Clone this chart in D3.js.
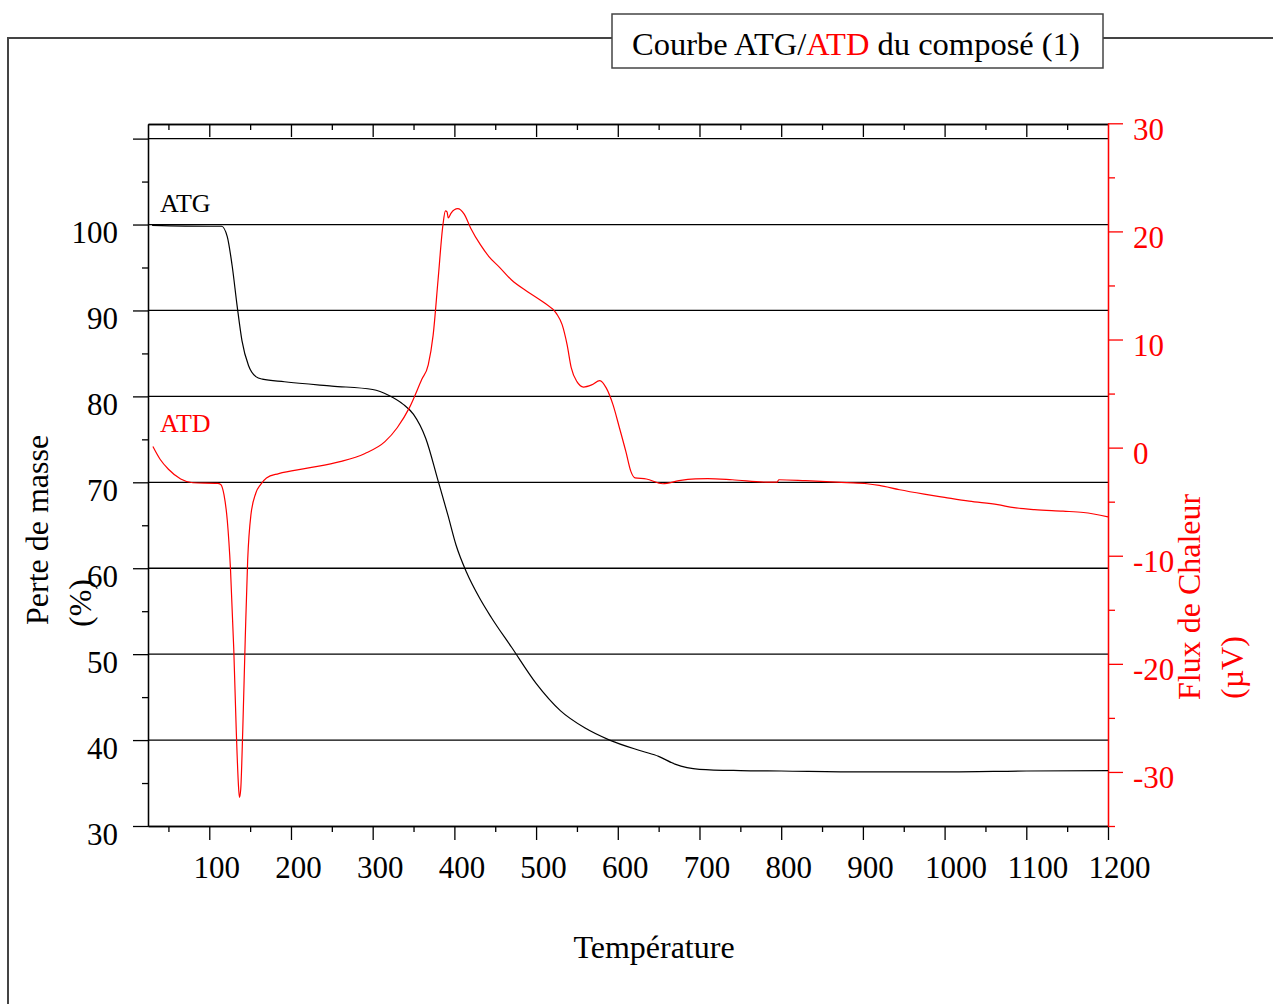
<!DOCTYPE html>
<html>
<head>
<meta charset="utf-8">
<script src="https://cdn.jsdelivr.net/npm/d3@7"></script>
<style>
  html, body { margin: 0; padding: 0; background: #fff; }
  svg { display: block; }
  svg text { font-family: "Liberation Serif", "Times New Roman", serif; }
</style>
</head>
<body>
<svg id="chart" width="1273" height="1004"></svg>
<script>
// ---- Data ----
const atgTemp = [30, 100, 115, 122, 128, 134, 140, 148, 157, 165, 192, 250, 300, 320, 337, 350, 365, 380, 392, 402, 415, 431, 445, 470, 500, 530, 560, 590, 630, 650, 670, 700, 750, 800, 900, 1000, 1100, 1200];
const atgMass = [99.9, 99.8, 99.8, 98.6, 95.2, 90.6, 86.5, 83.6, 82.3, 82.0, 81.7, 81.2, 80.8, 80.1, 79.1, 77.9, 75.1, 70.2, 66.2, 62.7, 59.5, 56.5, 54.3, 50.8, 46.6, 43.4, 41.4, 40.0, 38.7, 38.1, 37.2, 36.6, 36.45, 36.4, 36.3, 36.3, 36.4, 36.45];

const atdTemp = [31, 40, 50, 65, 80, 110, 114, 118, 122, 126, 130, 133, 136, 137, 138.5, 141, 144, 147, 151, 157, 163, 170, 185, 220, 260, 290, 315, 330, 345, 360, 368, 374, 380, 386, 389, 391, 392.5, 396, 404, 412, 420, 432, 442, 455, 470, 490, 510, 525, 532, 538, 543, 550, 558, 568, 578, 586, 594, 602, 610, 616, 621, 635, 655, 675, 695, 710, 740, 785, 795, 797, 830, 880, 905, 920, 945, 975, 1000, 1030, 1065, 1085, 1110, 1145, 1170, 1200];
const atdFlux = [0.1, -1.1, -2.0, -2.9, -3.25, -3.3, -3.4, -4.35, -6.7, -11.3, -18.7, -26.1, -31.6, -32.35, -31.6, -26.1, -17.75, -10.4, -6.2, -4.2, -3.4, -2.8, -2.4, -1.9, -1.3, -0.56, 0.55, 1.84, 3.7, 6.3, 7.66, 10.4, 15.5, 20.6, 21.9, 21.8, 21.25, 21.7, 22.1, 21.6, 20.3, 18.75, 17.7, 16.7, 15.5, 14.4, 13.4, 12.4, 11.35, 9.5, 7.4, 6.1, 5.6, 5.8, 6.2, 5.5, 4.0, 1.84, -0.4, -2.2, -2.8, -2.9, -3.34, -3.06, -2.9, -2.87, -2.97, -3.2, -3.2, -2.97, -3.06, -3.24, -3.34, -3.5, -3.9, -4.3, -4.6, -4.95, -5.28, -5.55, -5.74, -5.88, -6.0, -6.4];

const xMajorTicks = [100, 200, 300, 400, 500, 600, 700, 800, 900, 1000, 1100, 1200];
const xMinorTicks = [50, 150, 250, 350, 450, 550, 650, 750, 850, 950, 1050, 1150];
const leftMajorTicks = [30, 40, 50, 60, 70, 80, 90, 100, 110];
const leftLabeledTicks = [30, 40, 50, 60, 70, 80, 90, 100];
const leftMinorTicks = [35, 45, 55, 65, 75, 85, 95, 105];
const rightMajorTicks = [-30, -20, -10, 0, 10, 20, 30];
const rightMinorTicks = [-35, -25, -15, -5, 5, 15, 25];

const titleParts = [
  { text: "Courbe ATG/", color: "#000" },
  { text: "ATD", color: "#ff0000" },
  { text: " du composé (1)", color: "#000" }
];
const xAxisTitle = "Température";
const leftAxisTitle = ["Perte de masse", "(%)"];
const rightAxisTitle = ["Flux de Chaleur", "(µV)"];

// ---- Drawing ----
const svg = d3.select("#chart");
const RED = "#ff0000";
const FONT = 31;
const SERIF = '"Liberation Serif", "Times New Roman", serif';

const x = d3.scaleLinear().domain([25, 1200]).range([148, 1108]);
const yL = d3.scaleLinear().domain([30, 111.7]).range([826, 124]);
const yR = d3.scaleLinear().domain([-35, 30]).range([826, 123.3]);

// outer frame
svg.append("path")
  .attr("d", "M8,1010 L8,38 L612,38 M1103,38 L1280,38")
  .attr("fill", "none").attr("stroke", "#444").attr("stroke-width", 2);

// title box
svg.append("rect").attr("x", 612).attr("y", 14).attr("width", 491).attr("height", 54)
  .attr("fill", "#fff").attr("stroke", "#444").attr("stroke-width", 1.5);
const tt = svg.append("text").attr("x", 632).attr("y", 55).attr("font-size", 32.5);
titleParts.forEach(p => tt.append("tspan").attr("fill", p.color).text(p.text));

// gridlines
svg.append("g").selectAll("line").data(leftMajorTicks.filter(v => v > 30)).join("line")
  .attr("x1", 148).attr("x2", 1108)
  .attr("y1", d => yL(d)).attr("y2", d => yL(d))
  .attr("stroke", "#000").attr("stroke-width", 1.3);

// top axis (frame with inward ticks)
const topMajor = svg.append("g").attr("transform", "translate(0,124)")
  .call(d3.axisBottom(x).tickValues(xMajorTicks.filter(v => v < 1200)).tickSize(13).tickSizeOuter(0).tickFormat(""));
const topMinor = svg.append("g").attr("transform", "translate(0,124)")
  .call(d3.axisBottom(x).tickValues(xMinorTicks).tickSize(6).tickSizeOuter(0).tickFormat(""));
[topMajor, topMinor].forEach(g => { g.selectAll("path,line").attr("stroke", "#000").attr("stroke-width", 1.3); });

// bottom axis
const botMajor = svg.append("g").attr("transform", "translate(0,826)")
  .call(d3.axisBottom(x).tickValues(xMajorTicks).tickSize(14).tickSizeOuter(0).tickFormat(d3.format("d")));
botMajor.selectAll("text")
  .attr("y", 52).attr("dy", 0)
  .attr("dx", d => String(d).length > 3 ? 11 : 7)
  .attr("font-size", FONT).style("font-family", SERIF).attr("fill", "#000");
const botMinor = svg.append("g").attr("transform", "translate(0,826)")
  .call(d3.axisBottom(x).tickValues(xMinorTicks).tickSize(6).tickSizeOuter(0).tickFormat(""));
[botMajor, botMinor].forEach(g => { g.selectAll("path,line").attr("stroke", "#000").attr("stroke-width", 1.3); });

// left axis
const leftMajor = svg.append("g").attr("transform", "translate(148,0)")
  .call(d3.axisLeft(yL).tickValues(leftMajorTicks).tickSize(15).tickSizeOuter(0).tickPadding(15)
    .tickFormat(d => leftLabeledTicks.includes(d) ? String(d) : ""));
leftMajor.selectAll("text")
  .attr("dy", 18).attr("font-size", FONT).style("font-family", SERIF).attr("fill", "#000");
const leftMinor = svg.append("g").attr("transform", "translate(148,0)")
  .call(d3.axisLeft(yL).tickValues(leftMinorTicks).tickSize(6).tickSizeOuter(0).tickFormat(""));
[leftMajor, leftMinor].forEach(g => { g.selectAll("path,line").attr("stroke", "#000").attr("stroke-width", 1.3); });

// right axis (red)
const rightMajor = svg.append("g").attr("transform", "translate(1108,0)")
  .call(d3.axisRight(yR).tickValues(rightMajorTicks).tickSize(15).tickSizeOuter(0).tickPadding(10)
    .tickFormat(d => d < 0 ? "-" + Math.abs(d) : String(d)));
rightMajor.selectAll("text")
  .attr("dy", 16).attr("font-size", FONT).style("font-family", SERIF).attr("fill", RED);
const rightMinor = svg.append("g").attr("transform", "translate(1108,0)")
  .call(d3.axisRight(yR).tickValues(rightMinorTicks).tickSize(7).tickSizeOuter(0).tickFormat(""));
[rightMajor, rightMinor].forEach(g => { g.selectAll("path,line").attr("stroke", RED).attr("stroke-width", 1.3); });

// curves
const atgData = atgTemp.map((t, i) => [t, atgMass[i]]);
const atdData = atdTemp.map((t, i) => [t, atdFlux[i]]);

svg.append("path").datum(atgData)
  .attr("fill", "none").attr("stroke", "#000").attr("stroke-width", 1.2)
  .attr("d", d3.line().x(d => x(d[0])).y(d => yL(d[1])).curve(d3.curveMonotoneX));

svg.append("path").datum(atdData)
  .attr("fill", "none").attr("stroke", RED).attr("stroke-width", 1.2)
  .attr("d", d3.line().x(d => x(d[0])).y(d => yR(d[1])).curve(d3.curveMonotoneX));

// series annotations
svg.append("text").attr("x", 160).attr("y", 212).attr("font-size", 26).attr("fill", "#000").text("ATG");
svg.append("text").attr("x", 160).attr("y", 432).attr("font-size", 26).attr("fill", RED).text("ATD");

// axis titles
svg.append("text").attr("x", 654).attr("y", 958).attr("text-anchor", "middle")
  .attr("font-size", 32).attr("fill", "#000").text(xAxisTitle);

svg.append("text").attr("transform", "translate(48,625) rotate(-90)")
  .attr("font-size", 32).attr("fill", "#000").text(leftAxisTitle[0]);
svg.append("text").attr("transform", "translate(91,627) rotate(-90)")
  .attr("font-size", 32).attr("fill", "#000").text(leftAxisTitle[1]);

svg.append("text").attr("transform", "translate(1200,700) rotate(-90)")
  .attr("font-size", 32).attr("fill", RED).text(rightAxisTitle[0]);
svg.append("text").attr("transform", "translate(1243,699) rotate(-90)")
  .attr("font-size", 32).attr("fill", RED).text(rightAxisTitle[1]);
</script>
</body>
</html>
